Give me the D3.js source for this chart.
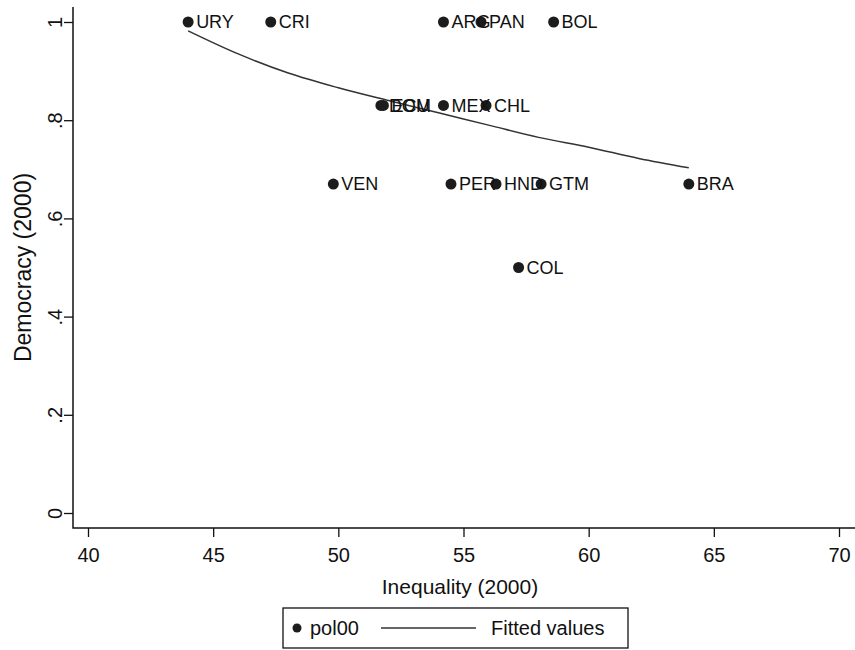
<!DOCTYPE html>
<html>
<head>
<meta charset="utf-8">
<script src="https://cdn.jsdelivr.net/npm/d3@7"></script>
<style>
  body { margin: 0; background: #fff; }
  svg { display: block; font-family: 'Liberation Sans', Arial, sans-serif; }
  .tick line { stroke: #111; stroke-width: 1.3; }
  .tick text { fill: #111; font-size: 20px; }
</style>
</head>
<body>
<div class="chart"></div>
<script>
/* Chart data
--------------------------------------------------- */
const countries = ['URY', 'CRI', 'ARG', 'PAN', 'BOL', 'DOM', 'ECU', 'MEX', 'CHL', 'VEN', 'PER', 'HND', 'GTM', 'BRA', 'COL'];
const inequality = [44.0, 47.3, 54.2, 55.7, 58.6, 51.7, 51.8, 54.2, 55.9, 49.8, 54.5, 56.3, 58.1, 64.0, 57.2];
const democracy = [1, 1, 1, 1, 1, 0.83, 0.83, 0.83, 0.83, 0.67, 0.67, 0.67, 0.67, 0.67, 0.5];

const fitX = [44, 46, 48, 50, 52, 54, 56, 58, 60, 62, 64];
const fitY = [0.982, 0.935, 0.896, 0.866, 0.84, 0.815, 0.79, 0.765, 0.745, 0.722, 0.703];

const xTicks = [40, 45, 50, 55, 60, 65, 70];
const yTicks = [0, 0.2, 0.4, 0.6, 0.8, 1];
const yTickLabels = ['0', '.2', '.4', '.6', '.8', '1'];

const points = countries.map((name, i) => ({ name, x: inequality[i], y: democracy[i] }));
const fitted = fitX.map((x, i) => ({ x, y: fitY[i] }));

/* Set up svg and scales
--------------------------------------------------- */
const width = 855;
const height = 650;
const plot = { left: 73, right: 855, top: 7, bottom: 528 };

const svg = d3
  .select('.chart')
  .append('svg')
  .attr('width', width)
  .attr('height', height);

const x = d3.scaleLinear().domain([40, 70]).range([88, 839]);
const y = d3.scaleLinear().domain([0, 1]).range([513, 22]);

/* Axes
--------------------------------------------------- */
const yAxis = svg
  .append('g')
  .attr('transform', `translate(${plot.left},0)`)
  .call(
    d3
      .axisLeft(y)
      .tickValues(yTicks)
      .tickFormat((d, i) => yTickLabels[i])
      .tickSize(9)
      .tickSizeOuter(0),
  );
yAxis.select('.domain').remove();
yAxis
  .selectAll('.tick text')
  .attr('x', null)
  .attr('dy', null)
  .attr('text-anchor', 'middle')
  .attr('transform', 'translate(-11,0) rotate(-90)');

const xAxis = svg
  .append('g')
  .attr('transform', `translate(0,${plot.bottom})`)
  .call(
    d3
      .axisBottom(x)
      .tickValues(xTicks)
      .tickSize(9)
      .tickPadding(11)
      .tickSizeOuter(0),
  );
xAxis.select('.domain').remove();

svg
  .append('path')
  .attr('d', `M${plot.left},${plot.top}V${plot.bottom}H${plot.right}`)
  .attr('fill', 'none')
  .attr('stroke', '#111')
  .attr('stroke-width', 1.5);

svg
  .append('text')
  .attr('transform', `translate(23,${(plot.top + plot.bottom) / 2}) rotate(-90)`)
  .attr('text-anchor', 'middle')
  .attr('dy', '0.35em')
  .attr('font-size', 23)
  .attr('fill', '#111')
  .text('Democracy (2000)');

svg
  .append('text')
  .attr('x', (plot.left + plot.right) / 2 - 4)
  .attr('y', 594)
  .attr('text-anchor', 'middle')
  .attr('font-size', 21)
  .attr('fill', '#111')
  .text('Inequality (2000)');

/* Fitted line and points
--------------------------------------------------- */
const line = d3
  .line()
  .curve(d3.curveMonotoneX)
  .x(d => x(d.x))
  .y(d => y(d.y));

svg
  .append('path')
  .datum(fitted)
  .attr('d', line)
  .attr('fill', 'none')
  .attr('stroke', '#333')
  .attr('stroke-width', 1.5);

svg
  .selectAll('.dot')
  .data(points)
  .enter()
  .append('circle')
  .attr('class', 'dot')
  .attr('cx', d => x(d.x))
  .attr('cy', d => y(d.y))
  .attr('r', 5.5)
  .attr('fill', '#1c1c1c');

svg
  .selectAll('.label')
  .data(points)
  .enter()
  .append('text')
  .attr('class', 'label')
  .attr('x', d => x(d.x) + 8)
  .attr('y', d => y(d.y))
  .attr('dy', '0.35em')
  .attr('font-size', 18)
  .attr('fill', '#111')
  .text(d => d.name);

/* Legend
--------------------------------------------------- */
const legend = svg.append('g').attr('transform', 'translate(283,608)');

legend
  .append('rect')
  .attr('width', 345)
  .attr('height', 40)
  .attr('fill', '#fff')
  .attr('stroke', '#111')
  .attr('stroke-width', 1.3);

legend
  .append('circle')
  .attr('cx', 14)
  .attr('cy', 20)
  .attr('r', 4.5)
  .attr('fill', '#1c1c1c');

legend
  .append('text')
  .attr('x', 27)
  .attr('y', 20)
  .attr('dy', '0.35em')
  .attr('font-size', 20)
  .attr('fill', '#111')
  .text('pol00');

legend
  .append('line')
  .attr('x1', 98)
  .attr('x2', 193)
  .attr('y1', 20)
  .attr('y2', 20)
  .attr('stroke', '#333')
  .attr('stroke-width', 1.5);

legend
  .append('text')
  .attr('x', 208)
  .attr('y', 20)
  .attr('dy', '0.35em')
  .attr('font-size', 20)
  .attr('fill', '#111')
  .text('Fitted values');
</script>
</body>
</html>
